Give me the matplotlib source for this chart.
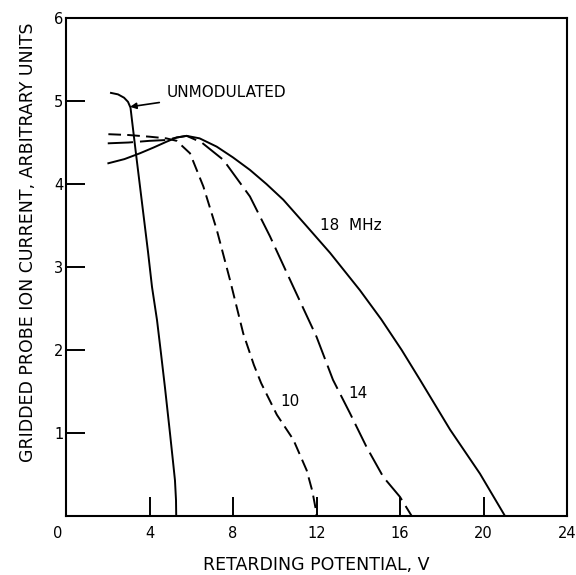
import matplotlib
matplotlib.use("Agg")
import matplotlib.pyplot as plt
from matplotlib.transforms import ScaledTranslation

# ---- data ----
unmod_x = [2.11, 2.49, 2.78, 2.97, 3.09, 3.16, 3.35, 3.55, 3.74, 3.93, 4.12, 4.36, 4.55, 4.74, 4.98, 5.12, 5.22, 5.27, 5.28]
unmod_y = [5.10, 5.08, 5.04, 4.99, 4.92, 4.77, 4.37, 3.96, 3.57, 3.18, 2.76, 2.36, 1.96, 1.55, 1.00, 0.67, 0.43, 0.19, 0.0]

f10_x = [2.03, 3.0, 4.0, 4.8, 5.3, 5.94, 6.58, 7.22, 7.86, 8.49, 9.0, 9.35, 10.1, 10.89, 11.53, 11.8, 11.95, 12.0]
f10_y = [4.60, 4.59, 4.57, 4.55, 4.52, 4.37, 3.97, 3.45, 2.84, 2.20, 1.82, 1.60, 1.22, 0.92, 0.55, 0.30, 0.10, 0.0]

f14_x = [2.0, 3.0, 4.0, 4.82, 5.3, 5.78, 6.5, 7.54, 8.81, 9.77, 10.89, 12.0, 12.79, 13.6, 14.4, 15.2, 16.0, 16.56]
f14_y = [4.49, 4.50, 4.52, 4.53, 4.56, 4.58, 4.50, 4.29, 3.85, 3.37, 2.76, 2.16, 1.64, 1.24, 0.83, 0.47, 0.23, 0.0]

f18_x = [2.03, 2.8, 3.54, 4.2, 4.82, 5.3, 5.78, 6.4, 7.22, 8.0, 8.81, 9.6, 10.41, 11.5, 12.65, 14.08, 15.1, 16.08, 16.96, 18.4, 19.83, 21.03]
f18_y = [4.25, 4.30, 4.37, 4.44, 4.51, 4.56, 4.58, 4.55, 4.45, 4.32, 4.17, 4.00, 3.81, 3.50, 3.17, 2.72, 2.37, 2.00, 1.64, 1.04, 0.51, 0.0]

x_ticks = [0, 4, 8, 12, 16, 20, 24]
x_ticklabels = ["0", "4", "8", "12", "16", "20", "24"]
y_ticks = [1, 2, 3, 4, 5, 6]
y_ticklabels = ["1", "2", "3", "4", "5", "6"]

plt.rcParams['font.family'] = ['DejaVu Sans']

fig = plt.figure(figsize=(5.76, 5.75), dpi=100)
ax = fig.add_axes([66/576, 1 - 516/575, (567-66)/576, (516-18)/575])

lw = 1.4
ax.plot(unmod_x, unmod_y, color='black', lw=lw, solid_capstyle='butt')
ax.plot(f18_x, f18_y, color='black', lw=lw)
ax.plot(f10_x, f10_y, color='black', lw=lw, dashes=(6.5, 3.2))
ax.plot(f14_x, f14_y, color='black', lw=lw, dashes=(13, 3.6))

ax.set_xlim(0, 24)
ax.set_ylim(0, 6)
ax.set_xticks(x_ticks)
ax.set_xticklabels(x_ticklabels)
ax.set_yticks(y_ticks)
ax.set_yticklabels(y_ticklabels)
ax.tick_params(axis='both', direction='in', length=13.5, width=1.4, labelsize=10.5, color='black')
ax.tick_params(axis='x', pad=7)
ax.tick_params(axis='y', pad=2)
for s in ax.spines.values():
    s.set_linewidth(1.5)

# shift the "0" at the corner slightly left
lab0 = ax.get_xticklabels()[0]
lab0.set_transform(lab0.get_transform() + ScaledTranslation(-8/100, 0, fig.dpi_scale_trans))

ax.set_xlabel("RETARDING POTENTIAL, V", fontsize=12.5, va='baseline')
ax.xaxis.set_label_coords(0.5, -0.108)
ax.set_ylabel("GRIDDED PROBE ION CURRENT, ARBITRARY UNITS", fontsize=12.5)
ax.yaxis.set_label_coords(-0.058, 0.55)

ax.annotate("UNMODULATED", xy=(3.07, 4.93), xytext=(4.8, 5.1),
            fontsize=11, va='center', ha='left',
            arrowprops=dict(arrowstyle='-|>', color='black', lw=1.2,
                            mutation_scale=9, shrinkA=3, shrinkB=0))
ax.text(13.65, 3.5, "18  MHz", fontsize=11, ha='center', va='center')
ax.text(14.0, 1.48, "14", fontsize=11, ha='center', va='center')
ax.text(10.73, 1.38, "10", fontsize=11, ha='center', va='center')

fig.savefig("out.png", dpi=100)
